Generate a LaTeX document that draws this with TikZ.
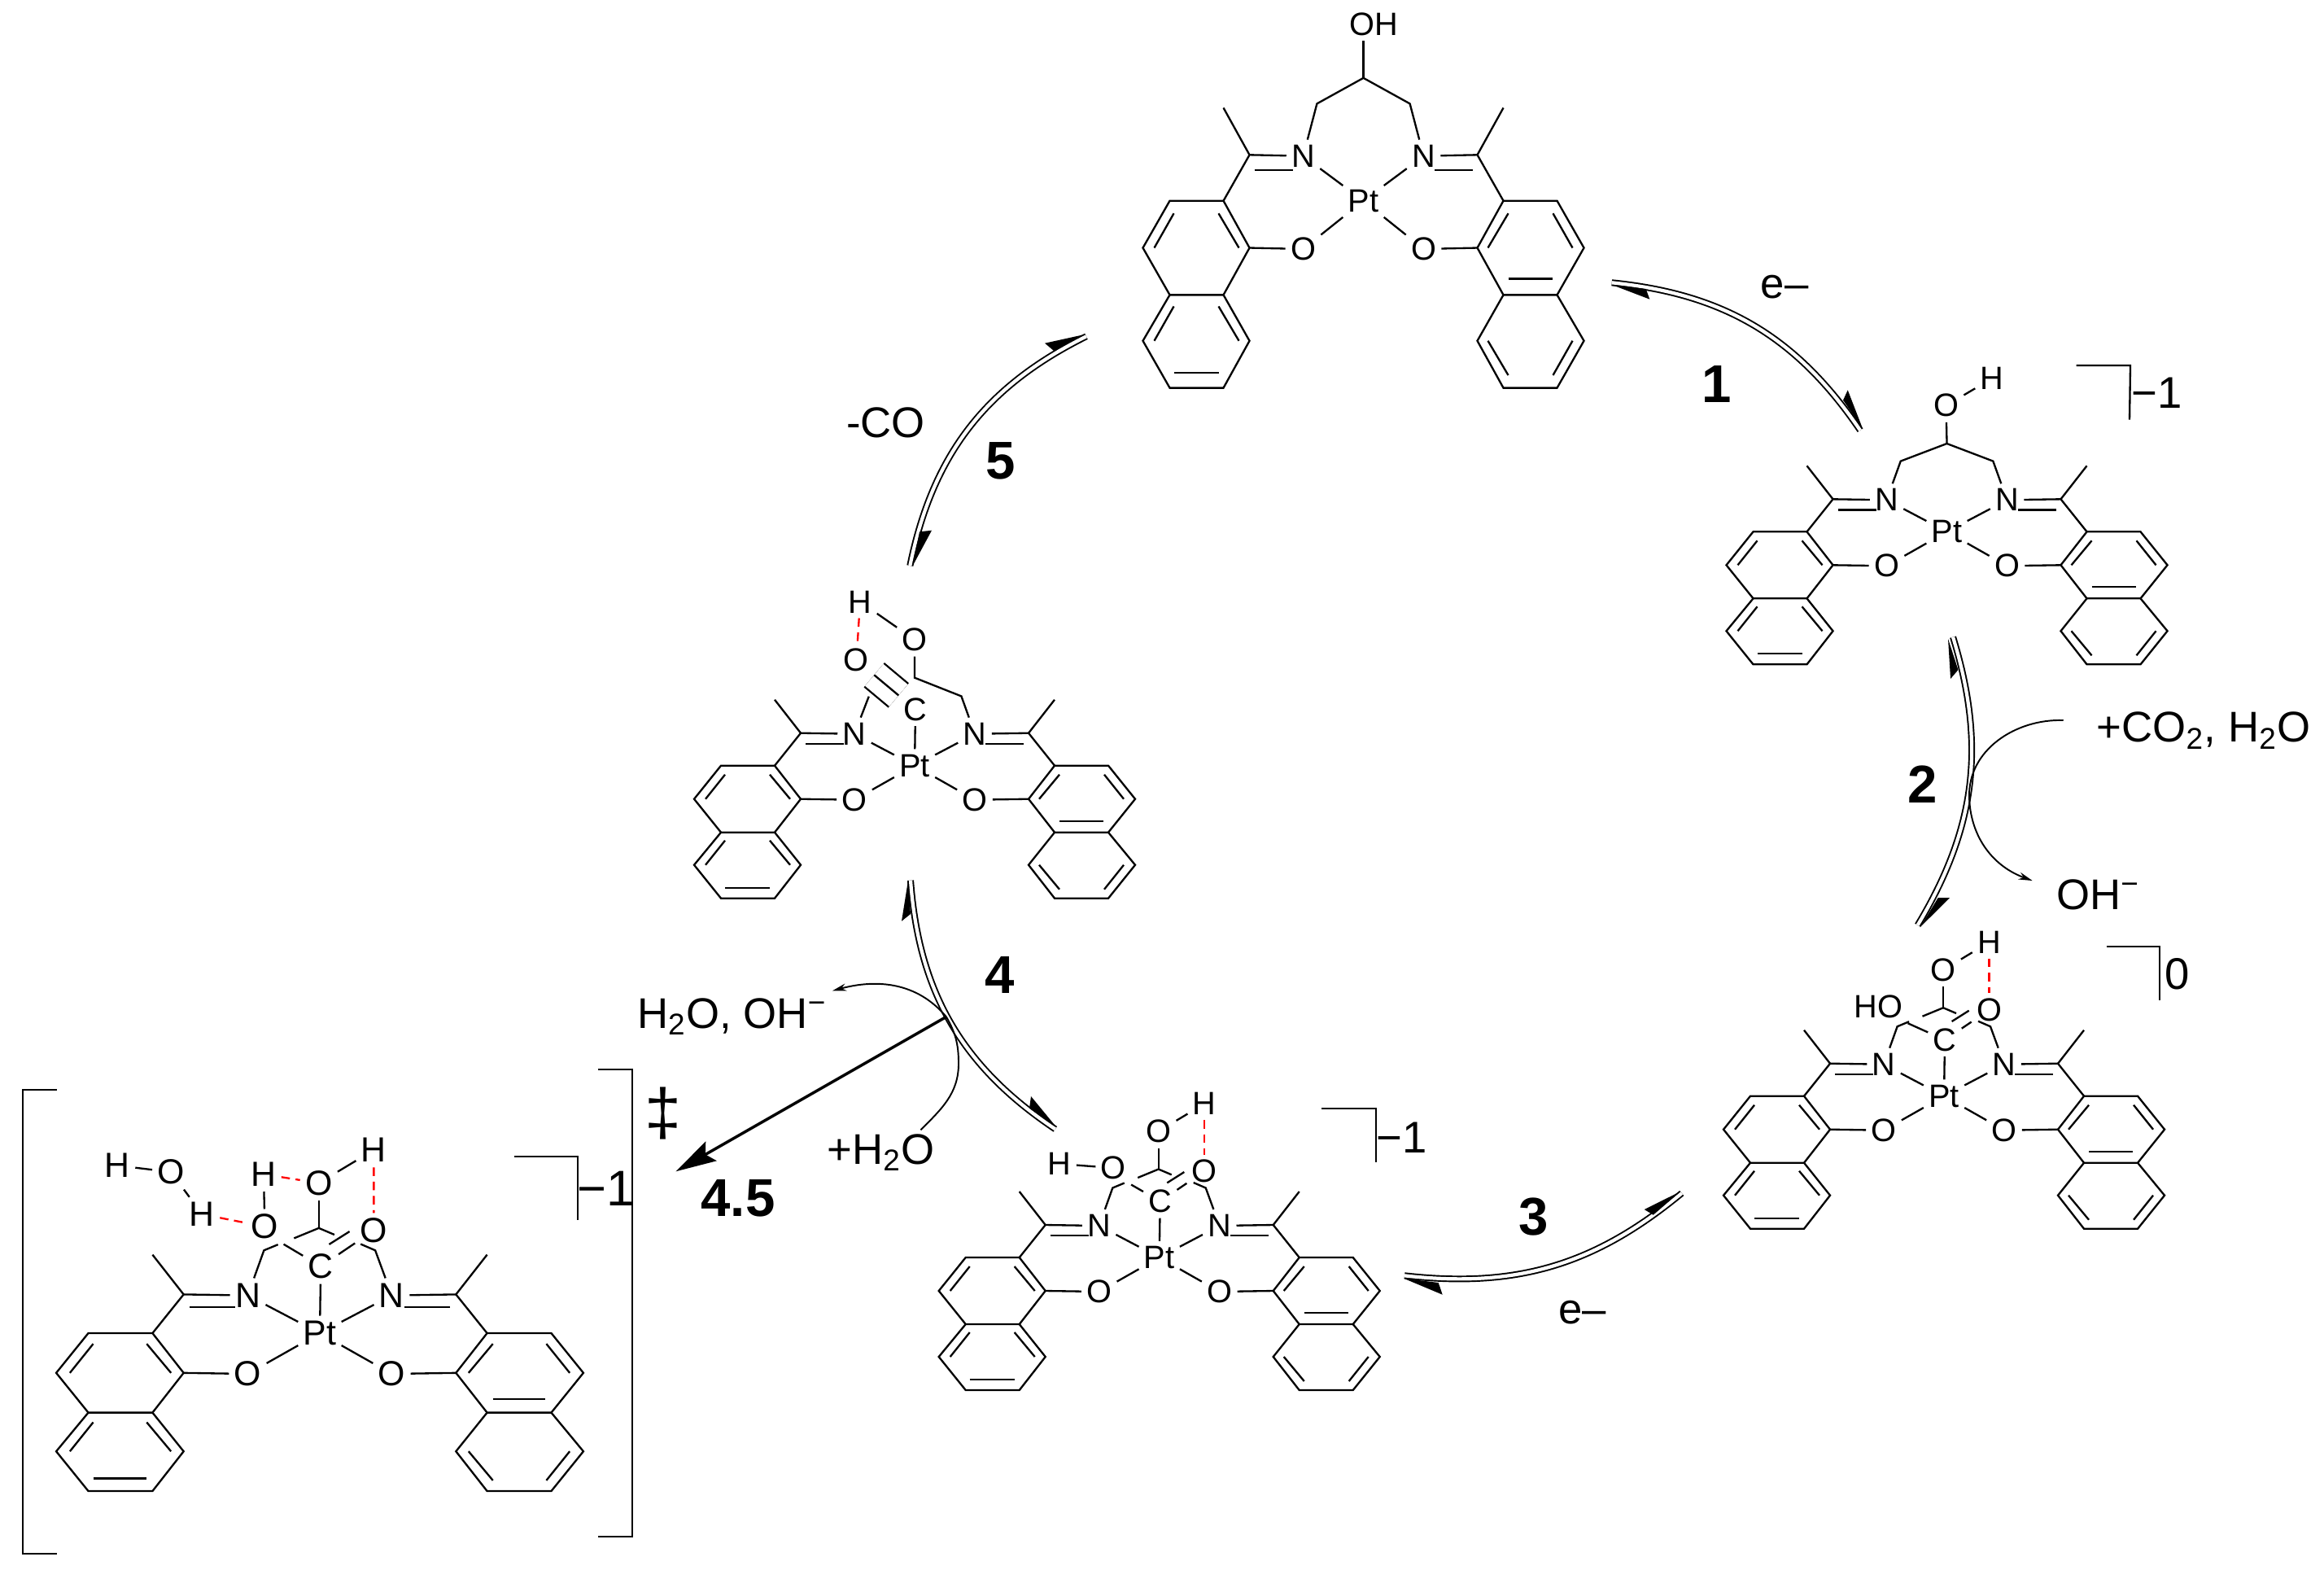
\documentclass[tikz,border=0pt]{standalone}
\usepackage{fontspec}
\setmainfont{Liberation Sans}
\usetikzlibrary{arrows.meta}

\tikzset{
  atom/.style={font=\fontsize{11.3}{13}\selectfont,inner sep=1.5pt},
  bigatom/.style={atom/.append style={font=\fontsize{12.2}{14}\selectfont}},
  hbond/.style={color=red,dash pattern=on 3pt off 2pt},
  eqline/.style={double,line width=0.55pt,double distance=1.2pt},
  curly/.style={line width=0.55pt},
  reagent/.style={font=\fontsize{15}{17}\selectfont,inner sep=0pt,anchor=base west},
  stepno/.style={font=\fontsize{18.6}{21}\selectfont\bfseries,inner sep=0pt},
  charge/.style={font=\fontsize{15.5}{18}\selectfont,inner sep=0pt}
}

\newcommand{\ligand}{
  \node[atom] (pt) at (0,0) {Pt};
  \foreach \sgn/\side in {-1/l,1/r}{
    \coordinate (me\side) at (\sgn*1.72,0.81);
    \coordinate (im\side) at (\sgn*1.40,0.40);
    \node[atom] (n\side) at (\sgn*0.74,0.39) {N};
    \node[atom] (o\side) at (\sgn*0.74,-0.42) {O};
    \coordinate (a\side) at (\sgn*1.72,0);
    \coordinate (b\side) at (\sgn*1.40,-0.41);
    \coordinate (c\side) at (\sgn*1.72,-0.82);
    \coordinate (d\side) at (\sgn*2.38,-0.82);
    \coordinate (e\side) at (\sgn*2.71,-0.41);
    \coordinate (f\side) at (\sgn*2.38,0);
    \coordinate (g\side) at (\sgn*1.40,-1.22);
    \coordinate (h\side) at (\sgn*1.72,-1.63);
    \coordinate (i\side) at (\sgn*2.38,-1.63);
    \coordinate (j\side) at (\sgn*2.71,-1.22);
    \draw (a\side) -- (b\side) -- (c\side) -- (d\side) -- (e\side) -- (f\side) -- cycle;
    \draw (c\side) -- (g\side) -- (h\side) -- (i\side) -- (j\side) -- (d\side);
    \draw (me\side) -- (im\side) -- (a\side);
    \draw (im\side) -- (n\side);
    \draw (n\side) -- (pt);
    \draw (o\side) -- (pt);
    \draw (b\side) -- (o\side);
    \draw (\sgn*1.34,0.267) -- (\sgn*0.87,0.267);
    \draw (\sgn*1.78,-0.11) -- (\sgn*1.53,-0.41);
    \draw (\sgn*2.33,-0.11) -- (\sgn*2.57,-0.41);
  }
  \draw (-1.78,-0.92) -- (-1.53,-1.22);
  \draw (-2.33,-0.92) -- (-2.57,-1.22);
  \draw (-2.33,-1.50) -- (-1.78,-1.50);
  \draw (1.78,-0.68) -- (2.32,-0.68);
  \draw (1.53,-1.22) -- (1.78,-1.52);
  \draw (2.57,-1.22) -- (2.33,-1.52);
}

\newcommand{\acidarm}[2]{
  \node[atom] (cc) at (0.01,0.69) {C};
  \node[atom] (ot) at (-0.01,1.55) {O};
  \node[atom] (hh) at (0.555,1.89) {H};
  \node[atom] (od) at (0.555,1.06) {O};
  \node[atom,#1] (os) at (-0.565,1.10) {#2};
  \coordinate (cl) at (-0.574,0.855);
  \coordinate (cx) at (-0.01,1.085);
  \coordinate (cr) at (0.57,0.855);
  \draw (pt) -- (cc);
  \draw (cc) -- (od);
  \draw (0.096,0.917) -- (0.306,1.05);
  \draw (cc) -- (os.south east);
  \draw (nl) -- (cl) -- (-0.43,0.915);
  \draw (-0.265,0.98) -- (cx) -- (0.15,1.017);
  \draw (0.42,0.92) -- (cr) -- (nr);
  \draw (cx) -- (ot);
  \draw (ot) -- (hh);
  \draw[hbond] (hh) -- (od);
}

\newcommand{\barb}[3]{\fill (#1) -- (#2) -- (#3) -- cycle;}

\begin{document}
\begin{tikzpicture}[line width=0.66pt]
\useasboundingbox (0,0) rectangle (28.56,-19.28);

\begin{scope}[shift={(16.755,-2.467)},yscale=1.41,name prefix=ma-]
\ligand
\node[atom] (oh) at (0.127,1.537) {OH};
\coordinate (cl) at (-0.571,0.846);
\coordinate (cx) at (0,1.07);
\coordinate (cr) at (0.571,0.846);
\draw (nl) -- (cl) -- (cx) -- (cr) -- (nr);
\draw (cx) -- (oh.south -| cx);
\end{scope}

\begin{scope}[shift={(23.925,-6.533)},name prefix=mb-]
\ligand
\node[atom] (ot) at (-0.01,1.55) {O};
\node[atom] (hh) at (0.555,1.883) {H};
\coordinate (cl) at (-0.568,0.867);
\coordinate (cx) at (0,1.083);
\coordinate (cr) at (0.568,0.867);
\draw (nl) -- (cl) -- (cx) -- (cr) -- (nr);
\draw (cx) -- (ot);
\draw (ot) -- (hh);
\end{scope}

\begin{scope}[shift={(23.89,-13.467)},name prefix=mc-]
\ligand
\acidarm{anchor=east,xshift=0.12cm}{HO}
\end{scope}

\begin{scope}[shift={(14.247,-15.45)},name prefix=md-]
\ligand
\acidarm{}{O}
\node[atom] (hs) at (-1.225,1.15) {H};
\draw (hs) -- (os);
\end{scope}

\begin{scope}[shift={(11.24,-9.407)},name prefix=me-]
\ligand
\node[atom] (cc) at (0.01,0.69) {C};
\node[atom] (os) at (-0.716,1.297) {O};
\node[atom] (ot) at (0,1.547) {O};
\node[atom] (hh) at (-0.67,2.013) {H};
\coordinate (cl) at (-0.563,0.85);
\coordinate (cx) at (0,1.08);
\coordinate (cr) at (0.574,0.853);
\draw[double,double distance=0.35cm] (cc) -- (os);
\draw (cc) -- (os);
\draw (pt) -- (cc);
\draw (nl) -- (cl);
\draw (ot) -- (cx) -- (cr) -- (nr);
\draw (ot) -- (hh);
\draw[hbond] (hh) -- (os);
\end{scope}

\begin{scope}[shift={(3.93,-16.38)},xscale=1.195,yscale=1.19,name prefix=mf-,bigatom]
\ligand
\acidarm{}{O}
\node[atom] (hu) at (-0.578,1.64) {H};
\node[atom] (hs) at (-1.21,1.227) {H};
\node[atom] (ow) at (-1.53,1.664) {O};
\node[atom] (hw) at (-2.08,1.73) {H};
\draw (os) -- (hu);
\draw[hbond] (hu) -- (ot);
\draw[hbond] (hs) -- (os);
\draw (hw) -- (ow);
\draw (ow) -- (hs);
\end{scope}

\draw (25.516,-4.49) -- (26.18,-4.49) -- (26.17,-5.157);
\node[charge] (qb) at (26.51,-4.83) {−1};
\draw (25.887,-11.627) -- (26.54,-11.627) -- (26.54,-12.293);
\node[charge] (qc) at (26.76,-11.967) {0};
\draw (16.244,-13.617) -- (16.907,-13.617) -- (16.907,-14.283);
\node[charge] (qd) at (17.23,-13.98) {−1};
\draw (6.318,-14.208) -- (7.103,-14.208) -- (7.103,-14.988);
\node[charge,font=\fontsize{17.5}{20}\selectfont] (qf) at (7.45,-14.60) {−1};
\draw (0.696,-13.388) -- (0.277,-13.388) -- (0.277,-19.092) -- (0.696,-19.092);
\draw (7.348,-13.14) -- (7.772,-13.14) -- (7.772,-18.88) -- (7.348,-18.88);
\node[charge,font=\fontsize{23}{26}\selectfont] (dag) at (8.154,-13.675) {‡};

\coordinate (s1a) at (19.807,-3.473);
\coordinate (s1b) at (22.86,-5.287);
\coordinate (s2a) at (24.00,-7.827);
\coordinate (s2b) at (23.566,-11.367);
\coordinate (s3a) at (20.667,-14.66);
\coordinate (s3b) at (17.26,-15.673);
\coordinate (s4a) at (11.19,-10.817);
\coordinate (s4b) at (12.968,-13.873);
\coordinate (s5a) at (13.35,-4.133);
\coordinate (s5b) at (11.183,-6.95);
\draw[eqline] (s1a) to[bend left=25] (s1b);
\draw[eqline] (s2a) to[bend left=24] (s2b);
\draw[eqline] (s3a) to[bend left=23] (s3b);
\draw[eqline] (s4a) to[bend right=26] (s4b);
\draw[eqline] (s5a) to[bend right=26] (s5b);

\barb{19.81,-3.50}{20.273,-3.677}{20.227,-3.55}
\barb{22.893,-5.273}{22.707,-4.793}{22.65,-4.917}
\barb{23.94,-7.85}{23.97,-8.34}{24.064,-8.23}
\barb{23.596,-11.393}{23.96,-11.03}{23.817,-11.03}
\barb{20.65,-14.64}{20.207,-14.86}{20.317,-14.927}
\barb{17.25,-15.707}{17.727,-15.907}{17.677,-15.76}
\barb{11.16,-10.817}{11.08,-11.317}{11.19,-11.23}
\barb{12.975,-13.84}{12.67,-13.47}{12.65,-13.617}
\barb{13.34,-4.107}{12.84,-4.217}{12.95,-4.31}
\barb{11.217,-6.95}{11.30,-6.533}{11.45,-6.517}

\coordinate (coin) at (25.357,-8.85);
\coordinate (cmid) at (24.20,-9.80);
\coordinate (ohout) at (24.976,-10.82);
\draw[curly] (coin) to[out=178,in=92] (cmid);
\draw[curly,-{Stealth[length=0.17cm,width=0.09cm]}] (cmid) to[out=-88,in=160] (ohout);
\coordinate (fork) at (11.629,-12.493);
\coordinate (wat) at (11.314,-13.883);
\coordinate (bend) at (11.78,-13.067);
\coordinate (hout) at (10.23,-12.173);
\draw[curly] (wat) to[out=45,in=-90] (bend) to[out=90,in=-60] (fork);
\draw[curly,-{Stealth[length=0.17cm,width=0.09cm]}] (fork) to[out=130,in=15] (hout);
\coordinate (ts) at (8.304,-14.393);
\draw[line width=1pt,-{Stealth[length=0.5cm,width=0.27cm,inset=0.08cm]}] (fork) -- (ts);

\node[stepno] (n1) at (21.10,-4.717) {1};
\node[stepno] (n2) at (23.627,-9.633) {2};
\node[stepno] (n3) at (18.843,-14.95) {3};
\node[stepno] (n4) at (12.286,-11.977) {4};
\node[stepno] (n5) at (12.293,-5.66) {5};
\node[stepno] (n45) at (9.07,-14.72) {4.5};

\node[reagent,anchor=center] (e1) at (21.93,-3.53) {e–};
\node[reagent,anchor=center] (e3) at (19.443,-16.127) {e–};
\node[reagent,anchor=center] (rco) at (10.883,-5.193) {-CO};
\node[reagent] (rco2) at (25.756,-9.117) {+CO\textsubscript{2}, H\textsubscript{2}O};
\node[reagent] (roh) at (25.26,-11.17) {OH\textsuperscript{−}};
\node[reagent] (rwo) at (7.82,-12.63) {H\textsubscript{2}O, OH\textsuperscript{−}};
\node[reagent] (rw) at (10.154,-14.30) {+H\textsubscript{2}O};
\end{tikzpicture}
\end{document}
